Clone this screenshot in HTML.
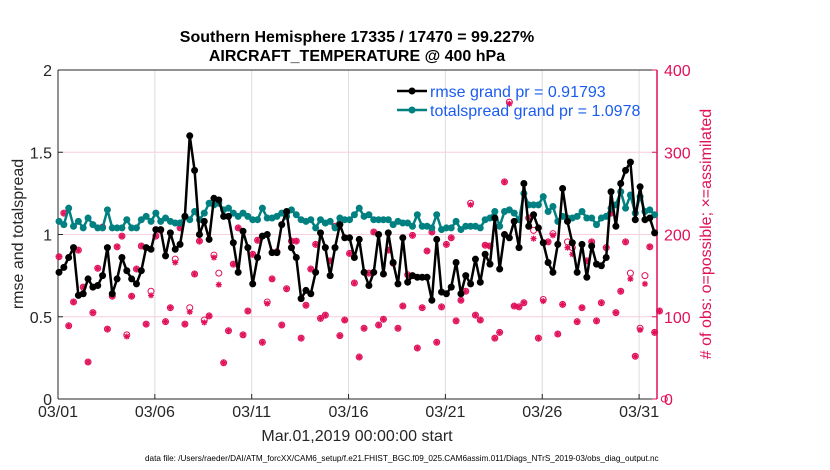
<!DOCTYPE html>
<html><head><meta charset="utf-8">
<style>
body{margin:0;background:#fff;width:830px;height:470px;overflow:hidden;font-family:"Liberation Sans",sans-serif}
svg{display:block}
</style></head>
<body>
<svg id="chart" width="830" height="470" xmlns="http://www.w3.org/2000/svg" font-family="Liberation Sans, sans-serif"></svg>
<script>
const dayTicks = ["03/01","03/06","03/11","03/16","03/21","03/26","03/31"];
const dayTickPos = [0,5,10,15,20,25,30];
const leftTicks = [0,0.5,1,1.5,2];
const rightTicks = [0,100,200,300,400];
const rmse = [.77,.80,.86,.92,.63,.64,.73,.68,.69,.75,.92,.64,.73,.86,.78,.73,.70,.78,.92,.91,1.03,1.03,.87,1.01,.91,.94,1.11,1.60,1.39,1.00,1.08,.97,1.22,
1.21,1.11,1.11,.95,.77,1.02,.92,.70,.86,.99,1.00,.89,.89,1.06,1.14,.92,.86,.61,.66,.64,.77,1.01,.92,.75,.92,1.06,.98,.98,.86,.97,
.77,.69,.77,1.00,.76,1.01,.83,.70,.98,.71,.75,.74,.74,.74,.60,.97,.65,.64,.68,.83,.64,.75,.70,.85,.71,.88,.82,1.10,.79,1.00,.98,
1.08,.92,1.31,1.05,1.12,1.04,.95,.83,.77,.94,1.28,1.08,.95,.77,.94,.74,.93,.82,.81,.86,1.26,1.05,1.31,1.39,1.44,1.09,1.29,1.09,1.10,1.01];
const spread = [1.08,1.06,1.16,1.05,1.08,1.04,1.10,1.06,1.04,1.04,1.15,1.04,1.04,1.04,1.09,1.04,1.04,1.09,1.11,1.08,1.13,1.08,1.10,1.08,1.07,1.07,1.11,1.09,1.14,1.09,1.13,1.19,1.18,
1.19,1.15,1.16,1.13,1.11,1.13,1.11,1.09,1.09,1.16,1.10,1.10,1.11,1.13,1.11,1.15,1.12,1.09,1.08,1.09,1.04,1.09,1.07,1.08,1.04,1.10,1.09,1.09,1.12,1.16,
1.11,1.12,1.09,1.09,1.09,1.09,1.06,1.08,1.07,1.07,1.05,1.12,1.05,1.05,1.04,1.12,1.03,1.04,1.04,1.08,1.03,1.05,1.05,1.05,1.04,1.09,1.10,1.14,1.05,1.14,1.15,
1.13,1.09,1.25,1.18,1.18,1.18,1.23,1.14,1.17,1.08,1.11,1.10,1.10,1.11,1.14,1.10,1.10,1.06,1.10,1.11,1.16,1.18,1.26,1.16,1.24,1.13,1.23,1.14,1.15,1.12];
const possible = [173,226,89,118,181,136,45,105,159,209,85,125,185,198,78,125,158,186,91,131,198,205,94,111,170,208,91,111,152,192,96,101,175,
153,44,83,164,208,78,107,176,193,69,118,146,179,90,134,192,192,74,114,158,188,98,102,168,210,77,96,177,141,51,
86,153,203,90,97,181,165,86,113,151,199,62,111,180,203,69,112,188,196,95,120,131,238,102,96,187,186,74,81,264,361,113,
112,117,220,205,74,121,191,201,79,115,191,184,94,111,168,191,95,117,184,226,105,131,191,153,52,86,150,185,81,107,0];
const assimilated = [173,226,89,118,181,136,45,105,159,209,85,125,185,198,76,125,158,186,91,126,198,205,94,111,166,208,91,106,152,192,93,101,172,
139,44,83,164,208,78,107,176,193,69,116,146,179,90,134,192,192,74,114,158,188,98,102,168,210,77,96,177,141,51,
86,153,203,90,97,181,165,86,113,151,199,62,111,180,203,69,112,188,196,95,120,131,236,102,96,187,186,74,81,264,359,113,
112,117,220,195,74,119,191,199,79,115,184,176,94,111,168,191,95,117,184,226,105,131,191,146,52,84,140,185,81,107];

const svg = document.getElementById('chart');
const NS = 'http://www.w3.org/2000/svg';
const X0 = 58, X1 = 657, Y0 = 399, Y1 = 70;
const perDay = 19.37;
const xDay = d => X0 + d * perDay;
const xIdx = i => X0 + 1 + i * perDay / 4;
const yL = v => Y0 - (v / 2) * (Y0 - Y1);
const yR = v => Y0 - (v / 400) * (Y0 - Y1);
const PINK = '#e0105a';
function mk(tag, attrs, parent) {
  const e = document.createElementNS(NS, tag);
  for (const k in attrs) e.setAttribute(k, attrs[k]);
  (parent || svg).appendChild(e);
  return e;
}

const grid = mk('g', {});


dayTickPos.forEach(d => { if (d > 0) mk('line', {x1: xDay(d), x2: xDay(d), y1: Y1, y2: Y0, stroke: '#dcdcdc', 'stroke-width': 1}, grid); });
[0.5, 1, 1.5].forEach(v => mk('line', {x1: X0, x2: X1, y1: yL(v), y2: yL(v), stroke: '#f7cfe0', 'stroke-width': 1}, grid));

const axes = mk('g', {});


mk('line', {x1: X0, x2: X1, y1: Y1, y2: Y1, stroke: '#262626', 'stroke-width': 1}, axes);
mk('line', {x1: X0, x2: X1, y1: Y0, y2: Y0, stroke: '#262626', 'stroke-width': 1}, axes);
mk('line', {x1: X0, x2: X0, y1: Y1, y2: Y0, stroke: '#262626', 'stroke-width': 1}, axes);
mk('line', {x1: X1, x2: X1, y1: Y1, y2: Y0, stroke: PINK, 'stroke-width': 1.5}, axes);

leftTicks.forEach(v => {
  mk('line', {x1: X0, x2: X0 + 5, y1: yL(v), y2: yL(v), stroke: '#262626'}, axes);
  const t = mk('text', {x: X0 - 6, y: yL(v) + 6, 'text-anchor': 'end', 'font-size': 16, fill: '#262626'}, axes);
  t.textContent = String(v);
  
  
});
rightTicks.forEach(v => {
  mk('line', {x1: X1 - 5, x2: X1, y1: yR(v), y2: yR(v), stroke: PINK}, axes);
  const t = mk('text', {x: X1 + 7, y: yR(v) + 6, 'font-size': 16, fill: PINK}, axes);
  t.textContent = String(v);
  
  
});
dayTicks.forEach((lab, k) => {
  const x = xDay(dayTickPos[k]);
  mk('line', {x1: x, x2: x, y1: Y0, y2: Y0 - 5, stroke: '#262626'}, axes);
  const t = mk('text', {x: x, y: 417, 'text-anchor': 'middle', 'font-size': 16, fill: '#262626'}, axes);
  t.textContent = lab;
  
  
});

const obs = mk('g', {});


possible.forEach((v, i) => {
  const c = mk('circle', {cx: xIdx(i), cy: yR(v), r: 3, fill: 'none', stroke: PINK, 'stroke-width': 1}, obs);
  
  
});
assimilated.forEach((v, i) => {
  const x = xIdx(i), y = yR(v);
  const s = mk('path', {d: `M${x-3} ${y}H${x+3}M${x} ${y-3}V${y+3}M${x-2.2} ${y-2.2}L${x+2.2} ${y+2.2}M${x-2.2} ${y+2.2}L${x+2.2} ${y-2.2}`, stroke: PINK, 'stroke-width': 1.3}, obs);
  
  
});

function series(vals, color, name) {
  const g = mk('g', {});
  
  
  mk('polyline', {points: vals.map((v, i) => xIdx(i) + ',' + yL(v)).join(' '), fill: 'none', stroke: color, 'stroke-width': 2.5, 'stroke-linejoin': 'round'}, g);
  vals.forEach((v, i) => {
    const c = mk('circle', {cx: xIdx(i), cy: yL(v), r: 3.5, fill: color}, g);
    
    
  });
}
series(spread, '#008080', 'totalspread-line');
series(rmse, '#000000', 'rmse-line');
</script>
<svg style="position:absolute;left:0;top:0" width="830" height="470" xmlns="http://www.w3.org/2000/svg">
  <text x="357" y="42" text-anchor="middle" font-family="Liberation Sans, sans-serif" font-weight="bold" font-size="16" fill="#000">Southern Hemisphere 17335 / 17470 = 99.227%</text>
  <text x="357" y="61" text-anchor="middle" font-family="Liberation Sans, sans-serif" font-weight="bold" font-size="16" fill="#000">AIRCRAFT_TEMPERATURE @ 400 hPa</text>
  <g font-family="Liberation Sans, sans-serif" font-size="16" fill="#1a5cf0">
    <line x1="397" x2="427" y1="91" y2="91" stroke="#000" stroke-width="2.5"/><circle cx="412" cy="91" r="3.5" fill="#000"/>
    <text x="430" y="97">rmse grand pr = 0.91793</text>
    <line x1="397" x2="427" y1="110" y2="110" stroke="#008080" stroke-width="2.5"/><circle cx="412" cy="110" r="3.5" fill="#008080"/>
    <text x="430" y="116">totalspread grand pr = 1.0978</text>
  </g>
  <text transform="translate(23,234) rotate(-90)" text-anchor="middle" font-family="Liberation Sans, sans-serif" font-size="16" fill="#262626">rmse and totalspread</text>
  <text transform="translate(711,234) rotate(-90)" text-anchor="middle" font-family="Liberation Sans, sans-serif" font-size="16" fill="#e0105a"># of obs: o=possible; ×=assimilated</text>
  <text x="357" y="441" text-anchor="middle" font-family="Liberation Sans, sans-serif" font-size="16" fill="#262626">Mar.01,2019 00:00:00 start</text>
  <text x="145" y="461" font-family="Liberation Sans, sans-serif" font-size="8.2" fill="#000">data file: /Users/raeder/DAI/ATM_forcXX/CAM6_setup/f.e21.FHIST_BGC.f09_025.CAM6assim.011/Diags_NTrS_2019-03/obs_diag_output.nc</text>
</svg>
</body></html>
